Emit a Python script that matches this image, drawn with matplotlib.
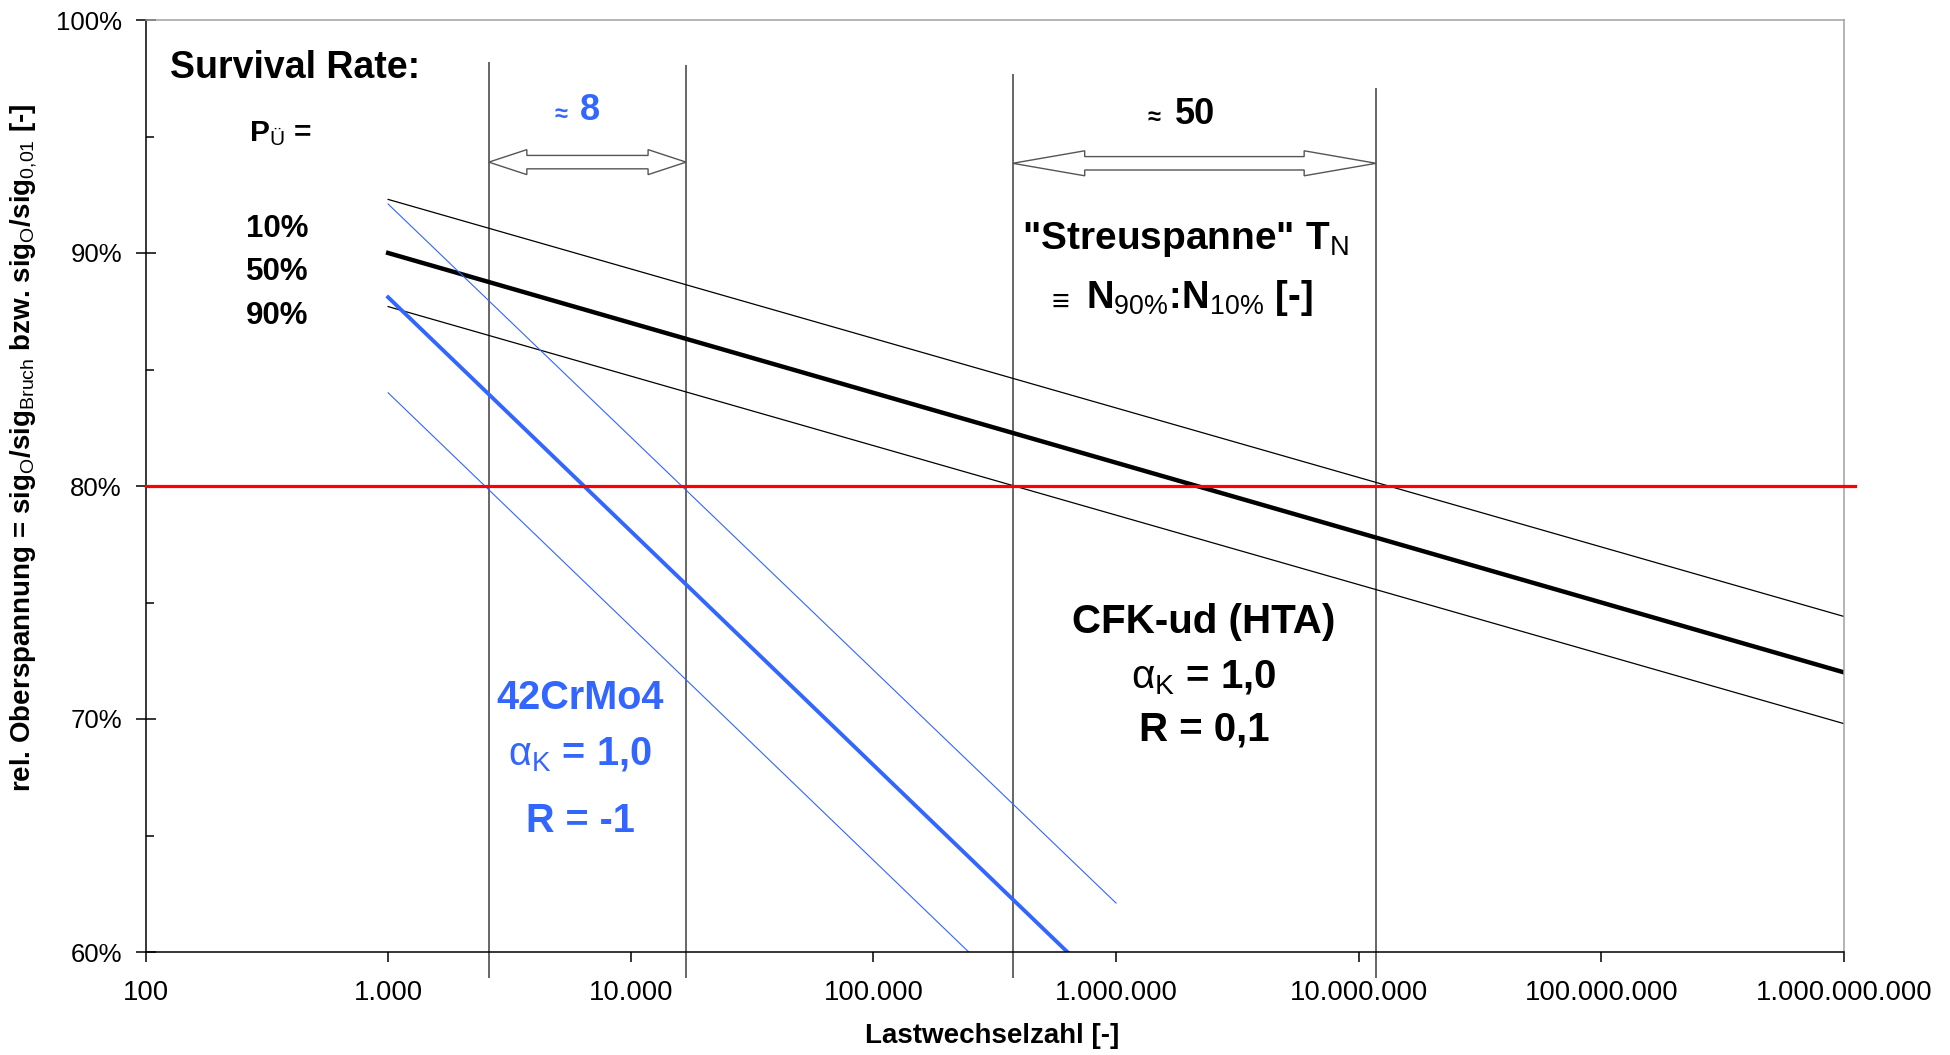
import numpy as np
import matplotlib
matplotlib.use("Agg")
import matplotlib.pyplot as plt
from matplotlib.patches import Polygon

plt.rcParams["font.family"] = ["Liberation Sans", "DejaVu Sans"]
plt.rcParams["mathtext.fontset"] = "custom"
plt.rcParams["mathtext.rm"] = "Liberation Sans"
plt.rcParams["mathtext.it"] = "Liberation Sans:italic"
plt.rcParams["mathtext.bf"] = "Liberation Sans:bold"

# --- data (load cycles N, stress ratio in %) ---
cfk_n = [1e3, 1e9]
cfk_p10 = [92.3, 74.4]
cfk_p50 = [90.0, 72.0]
cfk_p90 = [87.7, 69.8]

steel_p10_n = [1e3, 1e6]
steel_p10 = [92.1, 62.1]
steel_p50_n = [1e3, 6.3e5]
steel_p50 = [88.1, 60.0]
steel_p90_n = [1e3, 2.47e5]
steel_p90 = [84.0, 60.0]

ref_level = 80.0                         # red horizontal line
scatter_n = [2600, 16900, 3.75e5, 1.18e7]  # vertical marker lines
scatter_top = [98.2, 98.07, 97.7, 97.1]

x_ticks = [1e2, 1e3, 1e4, 1e5, 1e6, 1e7, 1e8, 1e9]
y_ticks = [60, 70, 80, 90, 100]
y_minor = [65, 75, 85, 95]

BLUE = "#3366ff"

fig = plt.figure(figsize=(19.5, 10.55), dpi=100)
ax = fig.add_axes([145.5 / 1950, 1 - 952 / 1055, 1698.5 / 1950, 932 / 1055])

ax.set_xscale("log")
ax.set_xlim(1e2, 1e9)
ax.set_ylim(60, 100)

# S-N lines
ax.plot(cfk_n, cfk_p10, color="black", lw=0.9)
ax.plot(cfk_n, cfk_p50, color="black", lw=3.2)
ax.plot(cfk_n, cfk_p90, color="black", lw=0.9)
ax.plot(steel_p10_n, steel_p10, color=BLUE, lw=0.8)
ax.plot(steel_p50_n, steel_p50, color=BLUE, lw=2.8)
ax.plot(steel_p90_n, steel_p90, color=BLUE, lw=0.8)

ax.axhline(ref_level, xmin=0, xmax=1.0065, color="red", lw=2.3, clip_on=False, zorder=3)

ax.vlines(scatter_n, 58.9, scatter_top, colors="#4d4d4d", lw=1.2, clip_on=False, zorder=1)


def double_arrow(n_left, n_right, y, head_px):
    # hollow double-headed block arrow, sized in pixels
    dec_per_px = 7 / 1698.5
    pct_per_px = 40 / 932
    hl = 10 ** (head_px * dec_per_px)
    hh = 12.5 * pct_per_px
    sh = 6.7 * pct_per_px
    pts = [
        (n_left, y), (n_left * hl, y + hh), (n_left * hl, y + sh),
        (n_right / hl, y + sh), (n_right / hl, y + hh), (n_right, y),
        (n_right / hl, y - hh), (n_right / hl, y - sh), (n_left * hl, y - sh),
        (n_left * hl, y - hh),
    ]
    ax.add_patch(Polygon(pts, closed=True, facecolor="white", edgecolor="#555555",
                         lw=1.0, zorder=4))


double_arrow(scatter_n[0], scatter_n[1], 93.9, 38)
double_arrow(scatter_n[2], scatter_n[3], 93.85, 72)

# axes styling
for side in ["top", "right"]:
    ax.spines[side].set_color("#a0a0a0")
    ax.spines[side].set_linewidth(1.1)
for side in ["left", "bottom"]:
    ax.spines[side].set_color("black")
    ax.spines[side].set_linewidth(1.1)

ax.set_xticks(x_ticks)
ax.set_xticklabels([f"{int(v):,}".replace(",", ".") for v in x_ticks], fontsize=19.8)
ax.xaxis.set_minor_locator(matplotlib.ticker.NullLocator())
ax.tick_params(axis="x", direction="out", length=7, width=1.1, pad=13)
ax.set_yticks(y_ticks)
ax.set_yticklabels([f"{v}%" for v in y_ticks], fontsize=18.5)
ax.set_yticks(y_minor, minor=True)
ax.tick_params(axis="y", which="major", direction="inout", length=14, width=1.1, pad=10)
ax.tick_params(axis="y", which="minor", direction="in", length=6, width=1.1)

ax.text(-0.0715, 0.541,
        r"rel. Oberspannung = sig$_\mathrm{O}$/sig$_\mathrm{Bruch}$ bzw. "
        r"sig$_\mathrm{O}$/sig$_\mathrm{0{,}01}$ [-]",
        transform=ax.transAxes, rotation=90, ha="center", va="center",
        fontsize=20, fontweight="bold")
ax.text(0.4984, -0.0901, "Lastwechselzahl [-]", transform=ax.transAxes,
        ha="center", va="center", fontsize=20, fontweight="bold")

# annotations
tr = ax.transAxes
ax.text(0.0144, 0.9485, "Survival Rate:", transform=tr, ha="left", va="center",
        fontsize=27, fontweight="bold")
ax.text(0.0609, 0.8777, r"P$_\mathrm{Ü}$ =", transform=tr, ha="left", va="center",
        fontsize=21.5, fontweight="bold")
for yy, lab in zip([0.7758, 0.7296, 0.6824], ["10%", "50%", "90%"]):
    ax.text(0.0592, yy, lab, transform=tr, ha="left", va="center",
            fontsize=22.5, fontweight="bold")

ax.text((561 - 145.5) / 1698.5, 0.8985, "≈", transform=tr, ha="center", va="center",
        fontsize=17, fontweight="bold", color=BLUE)
ax.text((590 - 145.5) / 1698.5, 0.9024, "8", transform=tr, ha="center", va="center",
        fontsize=26, fontweight="bold", color=BLUE)
ax.text((1154 - 145.5) / 1698.5, 0.8952, "≈", transform=tr, ha="center", va="center",
        fontsize=17, fontweight="bold")
ax.text((1195 - 145.5) / 1698.5, 0.8991, "50", transform=tr, ha="center", va="center",
        fontsize=26, fontweight="bold")

ax.text(0.612, 0.765, r'"Streuspanne" T$_\mathrm{N}$', transform=tr, ha="center",
        va="center", fontsize=28, fontweight="bold")
ax.text((1060 - 145.5) / 1698.5, 0.697, "≡", transform=tr, ha="center", va="center",
        fontsize=22)
ax.text((1199 - 145.5) / 1698.5, 0.7017, r"N$_\mathrm{90\%}$:N$_\mathrm{10\%}$ [-]",
        transform=tr, ha="center", va="center", fontsize=27.5, fontweight="bold")

for yy, lab in zip([0.3541, 0.294, 0.2382],
                   ["CFK-ud (HTA)", r"$\mathrm{α}_\mathrm{K}$ = 1,0", "R = 0,1"]):
    ax.text(0.6232, yy, lab, transform=tr, ha="center", va="center",
            fontsize=29, fontweight="bold")
for yy, lab in zip([0.2725, 0.2114, 0.1406],
                   ["42CrMo4", r"$\mathrm{α}_\mathrm{K}$ = 1,0", "R = -1"]):
    ax.text(0.2558, yy, lab, transform=tr, ha="center", va="center",
            fontsize=28.5, fontweight="bold", color=BLUE)

fig.savefig("out.png", dpi=100)
